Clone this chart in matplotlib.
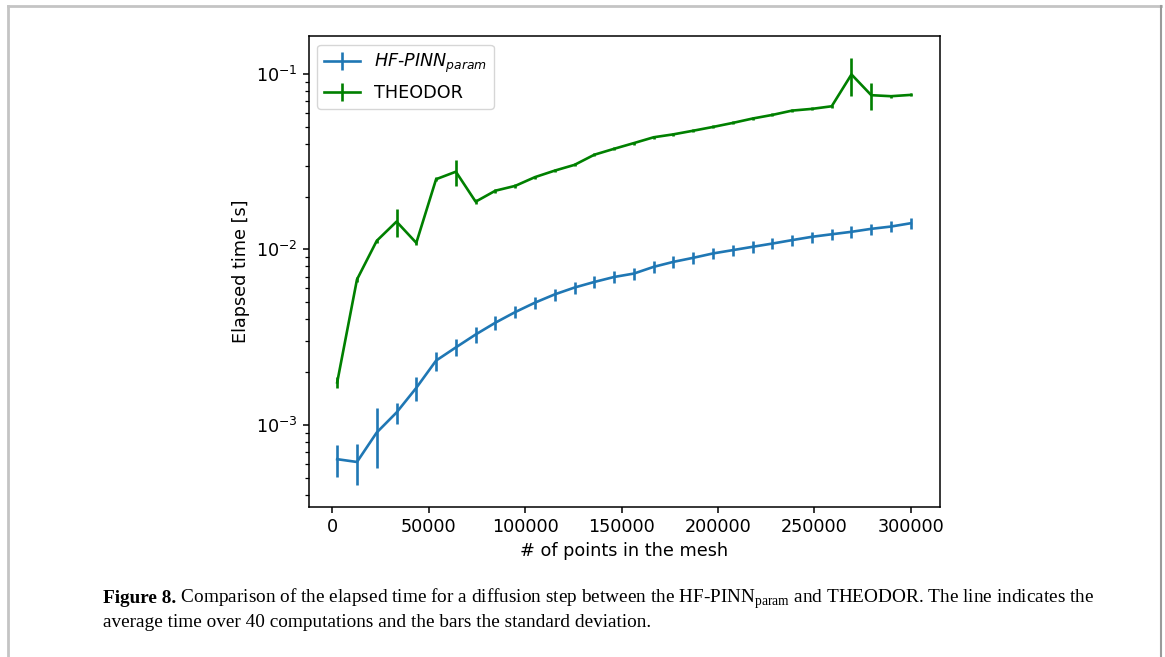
import matplotlib
matplotlib.use('Agg')
import matplotlib.pyplot as plt
from matplotlib.lines import Line2D

plt.rcParams['mathtext.fontset'] = 'custom'
plt.rcParams['mathtext.rm'] = 'Liberation Serif'
plt.rcParams['mathtext.it'] = 'DejaVu Sans:italic'

#Number of points in the mesh
mesh_points = [2500, 12759, 23017, 33276, 43534, 53793, 64052, 74310, 84569, 94828,
               105086, 115345, 125603, 135862, 146121, 156379, 166638, 176897, 187155, 197414,
               207672, 217931, 228190, 238448, 248707, 258966, 269224, 279483, 289741, 300000]

#HF-PINN_param mean elapsed time and std
pinn_mean = [6.40e-4, 6.17e-4, 9.08e-4, 1.18e-3, 1.63e-3, 2.33e-3, 2.77e-3, 3.28e-3, 3.83e-3, 4.40e-3,
             4.98e-3, 5.55e-3, 6.07e-3, 6.53e-3, 6.97e-3, 7.29e-3, 7.96e-3, 8.50e-3, 8.96e-3, 9.49e-3,
             9.91e-3, 1.035e-2, 1.08e-2, 1.13e-2, 1.18e-2, 1.22e-2, 1.26e-2, 1.31e-2, 1.35e-2, 1.41e-2]
pinn_std = [1.3e-4, 1.6e-4, 3.4e-4, 1.6e-4, 2.5e-4, 2.9e-4, 3.1e-4, 3.3e-4, 3.4e-4, 3.5e-4,
            4.0e-4, 4.4e-4, 4.8e-4, 5.2e-4, 5.4e-4, 5.6e-4, 6.0e-4, 6.4e-4, 6.7e-4, 7.0e-4,
            7.3e-4, 7.6e-4, 7.9e-4, 8.2e-4, 8.5e-4, 8.8e-4, 9.1e-4, 9.4e-4, 9.7e-4, 1.0e-3]

#THEODOR mean elapsed time and std
theodor_mean = [1.75e-3, 6.74e-3, 0.0112, 0.0144, 0.0109, 0.0251, 0.0277, 0.0187, 0.0216, 0.0230,
                0.0258, 0.0281, 0.0303, 0.0346, 0.0374, 0.0403, 0.0435, 0.0452, 0.0474, 0.0498,
                0.0525, 0.0556, 0.0583, 0.0617, 0.0631, 0.0653, 0.0991, 0.0755, 0.0745, 0.0758]
theodor_std = [1.2e-4, 2e-4, 3e-4, 2.7e-3, 3e-4, 6e-4, 4.8e-3, 6e-4, 6e-4, 5e-4,
               5e-4, 6e-4, 6e-4, 7e-4, 7e-4, 8e-4, 9e-4, 9e-4, 9e-4, 1e-3,
               1e-3, 1.1e-3, 1.1e-3, 1.2e-3, 1.2e-3, 1.3e-3, 0.024, 0.0136, 1.5e-3, 1.5e-3]

caption_bold = 'Figure 8.'
caption_1 = (r' Comparison of the elapsed time for a diffusion step between the '
             r'HF-PINN$_{\mathrm{param}}$ and THEODOR. The line indicates the')
caption_2 = 'average time over 40 computations and the bars the standard deviation.'

fs = 12.7
cap_fs = 13.9

fig = plt.figure(figsize=(11.65, 6.57), dpi=100)
ax = fig.add_axes([308.5/1165, 1-507/657, (939.5-308.5)/1165, (507-36)/657])

ax.errorbar(mesh_points, pinn_mean, yerr=pinn_std, color='#1f77b4', lw=1.9, elinewidth=1.9,
            label=r'$HF$-$PINN_{param}$')
ax.errorbar(mesh_points, theodor_mean, yerr=theodor_std, color='green', lw=1.9, elinewidth=1.9,
            label='THEODOR')
ax.set_yscale('log')
ax.set_ylim(3.42e-4, 0.164)
ax.set_xticks([0, 50000, 100000, 150000, 200000, 250000, 300000])
ax.tick_params(labelsize=fs, length=4.5, width=1.1)
ax.tick_params(which='minor', length=2.6, width=0.9)
for s in ax.spines.values():
    s.set_linewidth(1.1)
ax.set_xlabel('# of points in the mesh', fontsize=fs)
ax.set_ylabel('Elapsed time [s]', fontsize=fs)
ax.legend(loc='upper left', fontsize=fs)

#caption: bold part first, rest placed right after it
t_bold = fig.text(103/1165, 1-603/657, caption_bold, family='Liberation Serif', weight='bold',
                  fontsize=cap_fs, va='baseline')
r = fig.canvas.get_renderer()
bb = t_bold.get_window_extent(renderer=r)
fig.text(bb.x1/1165, 1-603/657, caption_1, family='Liberation Serif', fontsize=cap_fs, va='baseline')
fig.text(103/1165, 1-627/657, caption_2, family='Liberation Serif', fontsize=cap_fs, va='baseline')

#frame
fig.add_artist(Line2D([8/1165, 8/1165], [0, 1-6/657], color='#c4c4c4', lw=2))
fig.add_artist(Line2D([8/1165, 1161/1165], [1-6/657, 1-6/657], color='#c4c4c4', lw=2))
fig.add_artist(Line2D([1161/1165, 1161/1165], [0, 1-6/657], color='#9a9a9a', lw=1.5))

plt.savefig('out.png')
